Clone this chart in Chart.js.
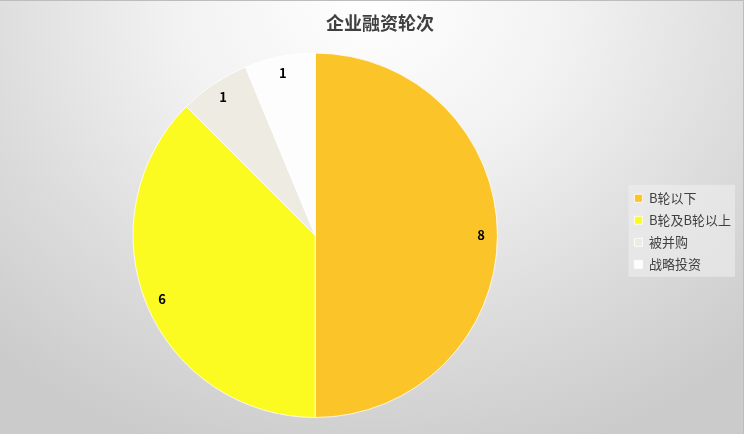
<!DOCTYPE html>
<html>
<head>
<meta charset="utf-8">
<script src="https://cdn.jsdelivr.net/npm/chart.js@4"></script>
<style>
  html, body { margin: 0; padding: 0; }
  body { width: 744px; height: 434px; overflow: hidden; }
  .wrap {
    position: relative; width: 744px; height: 434px; box-sizing: border-box;
    border-top: 1px solid #bdbdbd; border-right: 1px solid #bdbdbd;
    background: radial-gradient(ellipse 75% 110% at 50% 0%, #ffffff 0%, #f2f2f2 35%, #dcdcdc 70%, #cbcbcb 100%);
  }
</style>
</head>
<body>
<div class="wrap"><canvas id="pie-chart"></canvas></div>
<script>
/* 企业融资轮次 pie */
const labels = ['B轮以下', 'B轮及B轮以上', '被并购', '战略投资'];
const counts = [8, 6, 1, 1];
const colors = ['#fbc429', '#fbfb22', '#eeebe3', '#fdfdfd'];

// nudge legend up / title right a touch, then paint the legend box
const legendBg = {
  id: 'legendBg',
  afterUpdate(chart) {
    const lg = chart.legend;
    if (lg) {
      lg.top -= 4; lg.bottom -= 4;
      lg.legendHitBoxes.forEach(h => { h.top -= 4; });
    }
    const tb = chart.titleBlock;
    if (tb) { tb.left += 7; tb.right += 7; }
  },
  beforeDraw(chart) {
    const lg = chart.legend;
    if (!lg || !lg.legendHitBoxes.length) return;
    const hb = lg.legendHitBoxes;
    const x0 = Math.min(...hb.map(h => h.left)) - 6;
    const y0 = Math.min(...hb.map(h => h.top)) - 7;
    const x1 = Math.max(...hb.map(h => h.left + h.width)) + 4;
    const y1 = Math.max(...hb.map(h => h.top + h.height)) + 6;
    const ctx = chart.ctx;
    ctx.save();
    ctx.fillStyle = 'rgba(240,240,240,.55)';
    ctx.fillRect(x0, y0, x1 - x0, y1 - y0);
    ctx.restore();
  }
};

// value labels near the rim
const sliceLabels = {
  id: 'sliceLabels',
  afterDatasetsDraw(chart) {
    const ctx = chart.ctx;
    const meta = chart.getDatasetMeta(0);
    ctx.save();
    ctx.font = 'bold 13px "Noto Sans CJK SC", Arial, sans-serif';
    ctx.fillStyle = '#000';
    ctx.textAlign = 'center';
    ctx.textBaseline = 'middle';
    meta.data.forEach((arc, i) => {
      const p = arc.getProps(['x', 'y', 'startAngle', 'endAngle', 'outerRadius'], true);
      const mid = (p.startAngle + p.endAngle) / 2;
      const r = p.outerRadius * 0.91;
      ctx.fillText(String(counts[i]), p.x + Math.cos(mid) * r, p.y + Math.sin(mid) * r);
    });
    ctx.restore();
  }
};

new Chart(document.getElementById('pie-chart'), {
  type: 'pie',
  data: {
    labels: labels,
    datasets: [{
      data: counts,
      backgroundColor: colors,
      borderColor: 'rgba(255,255,255,.8)',
      borderWidth: 1,
    }]
  },
  options: {
    responsive: true, maintainAspectRatio: false,
    animation: false,
    layout: { padding: { left: 5, right: 2, bottom: 16 } },
    plugins: {
      title: {
        display: true, text: '企业融资轮次', color: '#404040',
        font: { size: 18, weight: 'bold', family: '"Noto Sans CJK SC", sans-serif' },
        padding: { top: 11, bottom: 19 }
      },
      legend: {
        position: 'right',
        fullSize: false,
        labels: {
          color: '#404040', boxWidth: 8, boxHeight: 8, padding: 9,
          font: { size: 13, family: '"Noto Sans CJK SC", sans-serif' }
        }
      },
      tooltip: { enabled: false }
    }
  },
  plugins: [legendBg, sliceLabels]
});
</script>
</body>
</html>
